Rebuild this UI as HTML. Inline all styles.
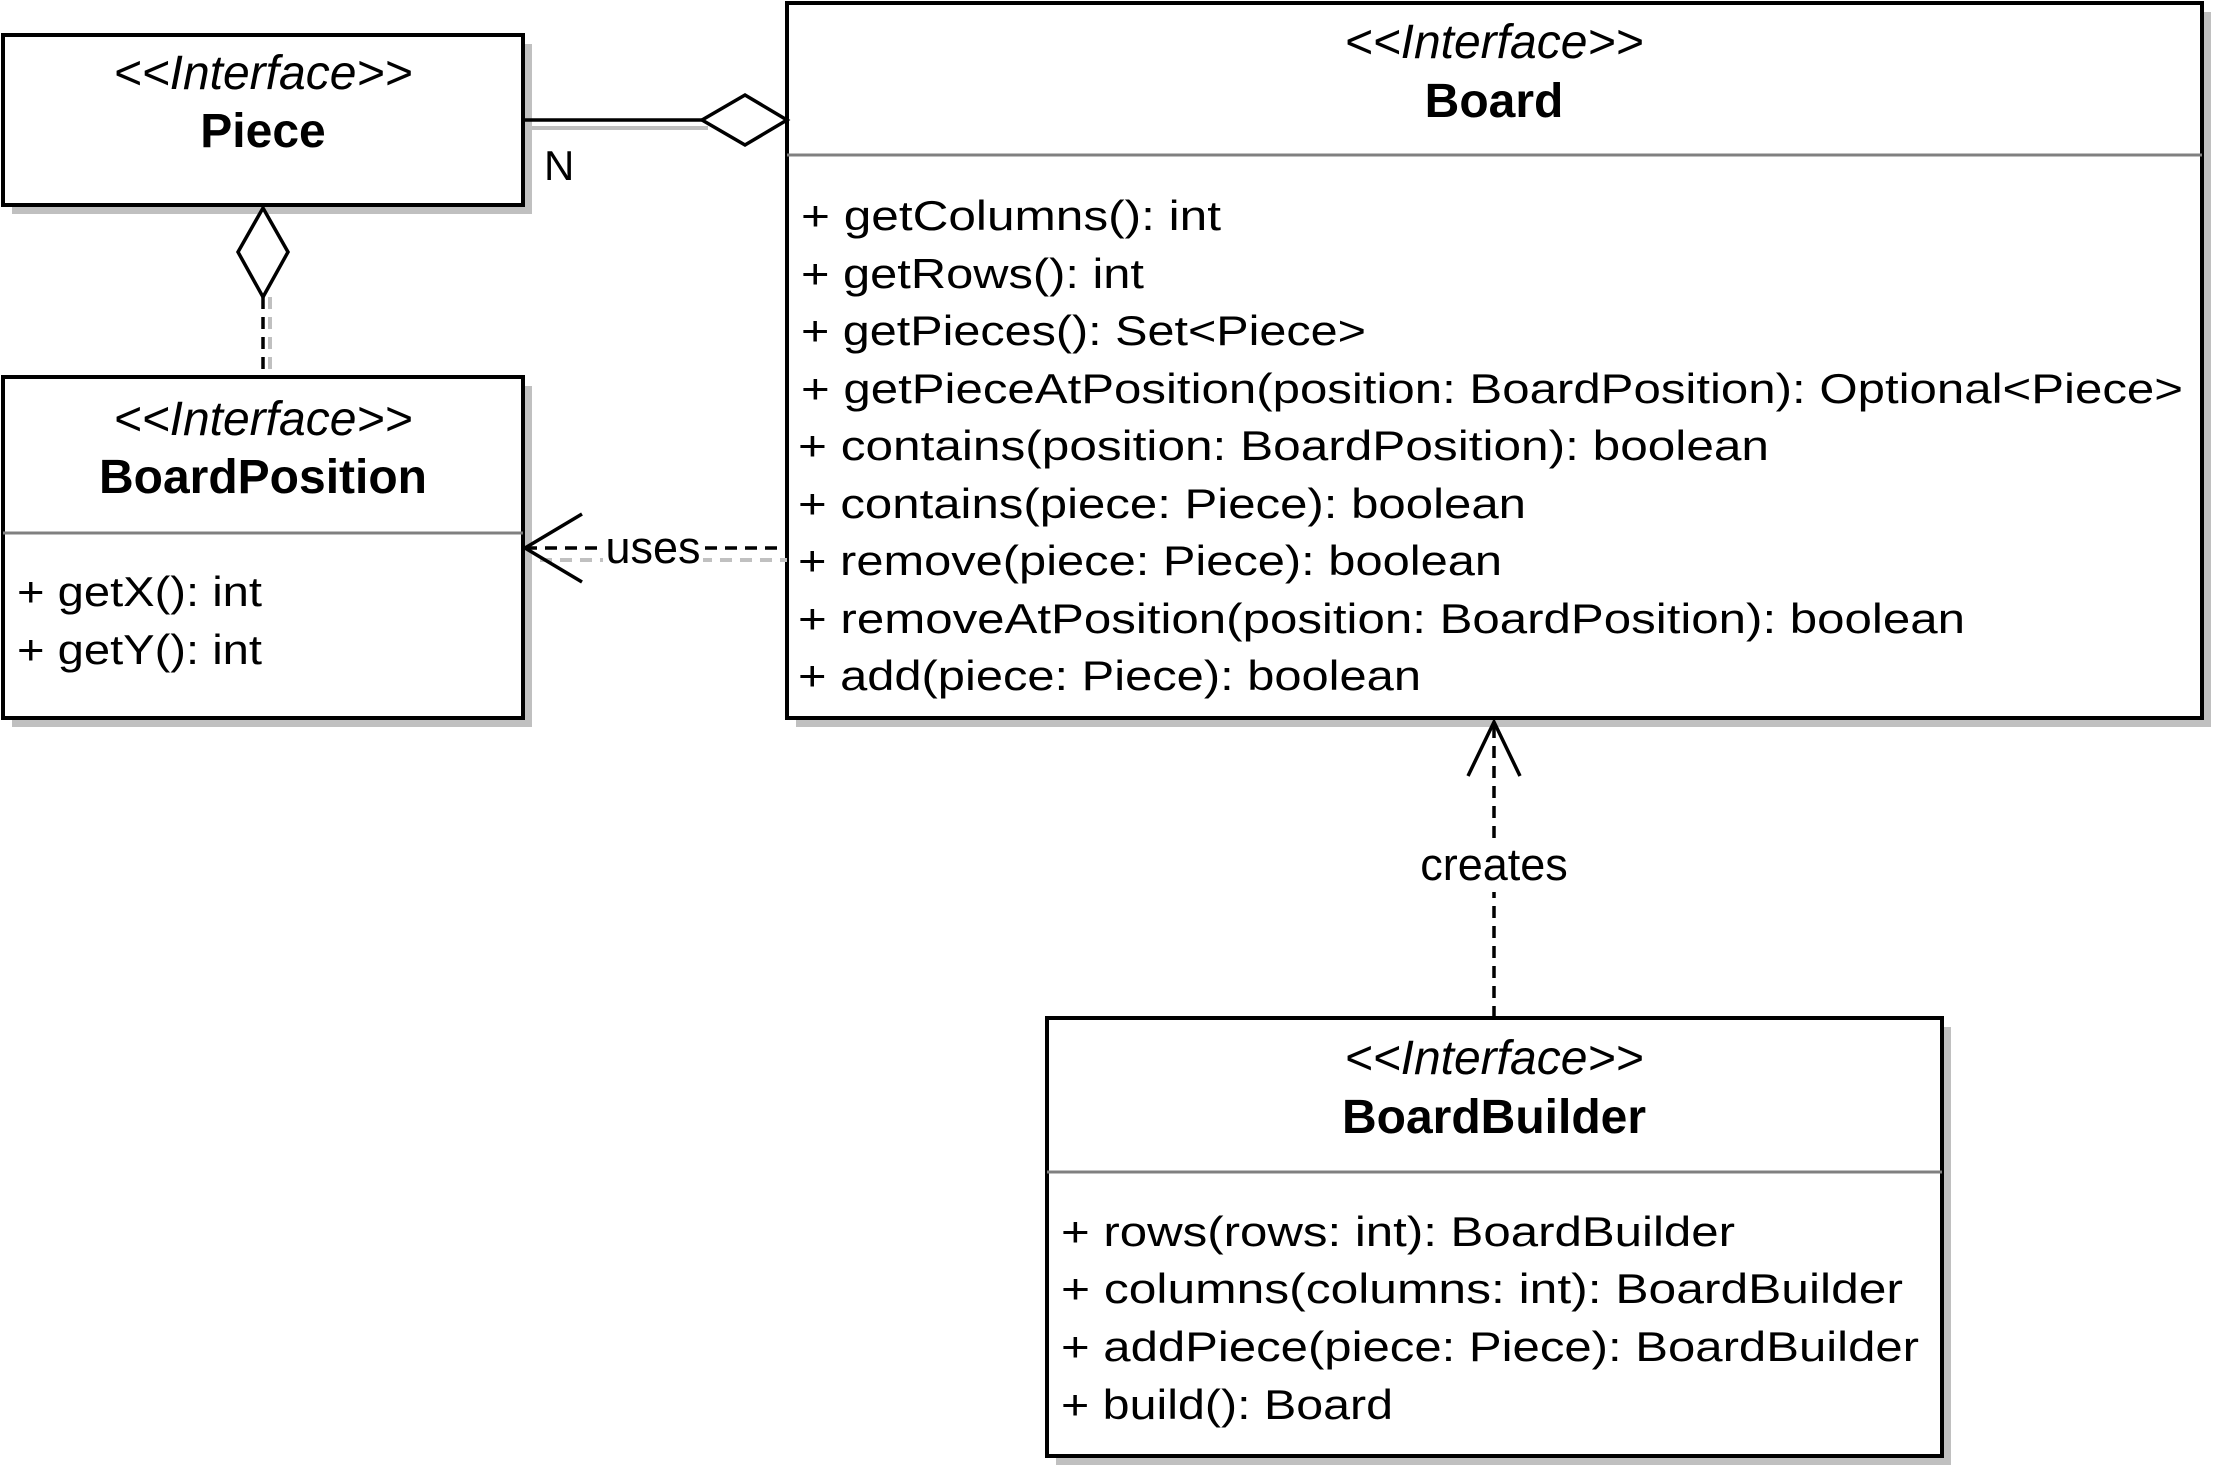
<!DOCTYPE html>
<html><head><meta charset="utf-8"><style>html,body{margin:0;padding:0;background:#fff}svg{display:block}</style></head><body>
<svg width="2216" height="1480" viewBox="0 0 2216 1480" xmlns="http://www.w3.org/2000/svg" font-family="Liberation Sans, Arial, sans-serif" font-size="42">
<g fill="#c0c0c0">
<rect x="12" y="44" width="520" height="170"/>
<rect x="12" y="386" width="520" height="341"/>
<rect x="796" y="12" width="1415" height="715"/>
<rect x="1056" y="1027" width="895" height="438"/>
</g>
<g fill="#fff" stroke="#000" stroke-width="4">
<rect x="3" y="35" width="520" height="170"/>
<rect x="3" y="377" width="520" height="341"/>
<rect x="787" y="3" width="1415" height="715"/>
<rect x="1047" y="1018" width="895" height="438"/>
</g>
<g stroke="#808080" stroke-width="3">
<line x1="3" y1="533" x2="523" y2="533"/>
<line x1="787" y1="155" x2="2202" y2="155"/>
<line x1="1047" y1="1172" x2="1942" y2="1172"/>
</g>
<g text-anchor="middle" font-size="48">
<text x="263" y="89" font-style="italic">&lt;&lt;Interface&gt;&gt;</text>
<text x="263" y="147" font-weight="bold">Piece</text>
<text x="263" y="435" font-style="italic">&lt;&lt;Interface&gt;&gt;</text>
<text x="263" y="493" font-weight="bold">BoardPosition</text>
<text x="1494" y="58" font-style="italic">&lt;&lt;Interface&gt;&gt;</text>
<text x="1494" y="117" font-weight="bold">Board</text>
<text x="1494" y="1074" font-style="italic">&lt;&lt;Interface&gt;&gt;</text>
<text x="1494" y="1133" font-weight="bold">BoardBuilder</text>
</g>
<g>
<text x="17" y="606" textLength="245" lengthAdjust="spacingAndGlyphs">+ getX(): int</text>
<text x="17" y="664" textLength="245" lengthAdjust="spacingAndGlyphs">+ getY(): int</text>
<text x="801" y="230" textLength="420" lengthAdjust="spacingAndGlyphs">+ getColumns(): int</text>
<text x="801" y="288" textLength="343" lengthAdjust="spacingAndGlyphs">+ getRows(): int</text>
<text x="801" y="345" textLength="565" lengthAdjust="spacingAndGlyphs">+ getPieces(): Set&lt;Piece&gt;</text>
<text x="801" y="403" textLength="1382" lengthAdjust="spacingAndGlyphs">+ getPieceAtPosition(position: BoardPosition): Optional&lt;Piece&gt;</text>
<text x="798" y="460" textLength="971" lengthAdjust="spacingAndGlyphs">+ contains(position: BoardPosition): boolean</text>
<text x="798" y="518" textLength="728" lengthAdjust="spacingAndGlyphs">+ contains(piece: Piece): boolean</text>
<text x="798" y="575" textLength="704" lengthAdjust="spacingAndGlyphs">+ remove(piece: Piece): boolean</text>
<text x="798" y="633" textLength="1167" lengthAdjust="spacingAndGlyphs">+ removeAtPosition(position: BoardPosition): boolean</text>
<text x="798" y="690" textLength="623" lengthAdjust="spacingAndGlyphs">+ add(piece: Piece): boolean</text>
<text x="1061" y="1246" textLength="674" lengthAdjust="spacingAndGlyphs">+ rows(rows: int): BoardBuilder</text>
<text x="1061" y="1303" textLength="842" lengthAdjust="spacingAndGlyphs">+ columns(columns: int): BoardBuilder</text>
<text x="1061" y="1361" textLength="858" lengthAdjust="spacingAndGlyphs">+ addPiece(piece: Piece): BoardBuilder</text>
<text x="1061" y="1419" textLength="332" lengthAdjust="spacingAndGlyphs">+ build(): Board</text>
</g>
<line x1="530" y1="128" x2="708" y2="128" stroke="#c0c0c0" stroke-width="4"/>
<line x1="523" y1="120" x2="702" y2="120" stroke="#000" stroke-width="3.5"/>
<polygon points="702,120 745,95 787,120 745,145" fill="#fff" stroke="#000" stroke-width="3.5"/>
<text x="544" y="180">N</text>
<line x1="270" y1="297" x2="270" y2="377" stroke="#c0c0c0" stroke-width="4" stroke-dasharray="12,8"/>
<line x1="263" y1="297" x2="263" y2="377" stroke="#000" stroke-width="3.5" stroke-dasharray="12,8"/>
<polygon points="263,208 288,252 263,297 238,252" fill="#fff" stroke="#000" stroke-width="3.5"/>
<line x1="540" y1="560" x2="787" y2="560" stroke="#c0c0c0" stroke-width="4" stroke-dasharray="12,8"/>
<line x1="525" y1="548" x2="787" y2="548" stroke="#000" stroke-width="3.5" stroke-dasharray="12,8"/>
<rect x="603" y="522" width="100" height="44" fill="#fff"/>
<text x="653" y="563" text-anchor="middle" font-size="45">uses</text>
<polyline points="582,514 525,548 582,582" fill="none" stroke="#000" stroke-width="3.5"/>
<line x1="1494" y1="1018" x2="1494" y2="722" stroke="#000" stroke-width="3.5" stroke-dasharray="12,8"/>
<rect x="1410" y="842" width="168" height="50" fill="#fff"/>
<text x="1494" y="880" text-anchor="middle" font-size="45">creates</text>
<polyline points="1468,776 1494,722 1520,776" fill="none" stroke="#000" stroke-width="3.5"/>
</svg>
</body></html>
